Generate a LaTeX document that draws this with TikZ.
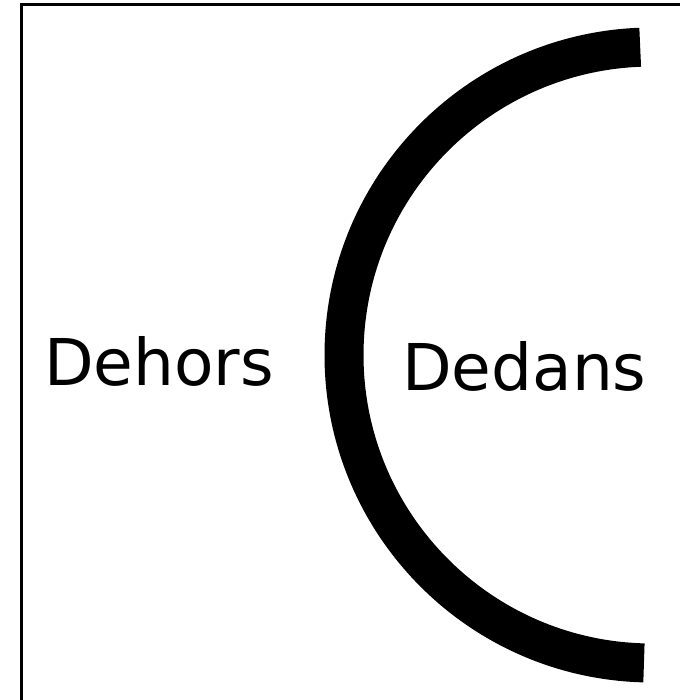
\documentclass[tikz,border=0pt]{standalone}
\usepackage{fontspec}
\setmainfont{DejaVu Sans}
\begin{document}
\begin{tikzpicture}[x=1pt,y=-1pt,
  frameline/.style={line width=3pt,black},
  ring/.style={line width=39pt,black,line cap=butt},
  lbl/.style={inner sep=0pt,anchor=base west,font=\fontsize{64.5}{72}\selectfont}]
\useasboundingbox (0,0) rectangle (680,700);
\coordinate (fbl) at (21,700);
\coordinate (ftl) at (21,5);
\coordinate (ftr) at (680,5);
\draw[frameline,line join=miter] (fbl) -- (ftl) -- (ftr);
\coordinate (c) at (652,355);
\draw[ring] (c) ++(91.5:308) arc[start angle=91.5,end angle=267.8,radius=308];
\node[lbl] (dehors) at (44,385) {Dehors};
\node[lbl] (dedans) at (402,390) {Dedans};
\end{tikzpicture}
\end{document}
